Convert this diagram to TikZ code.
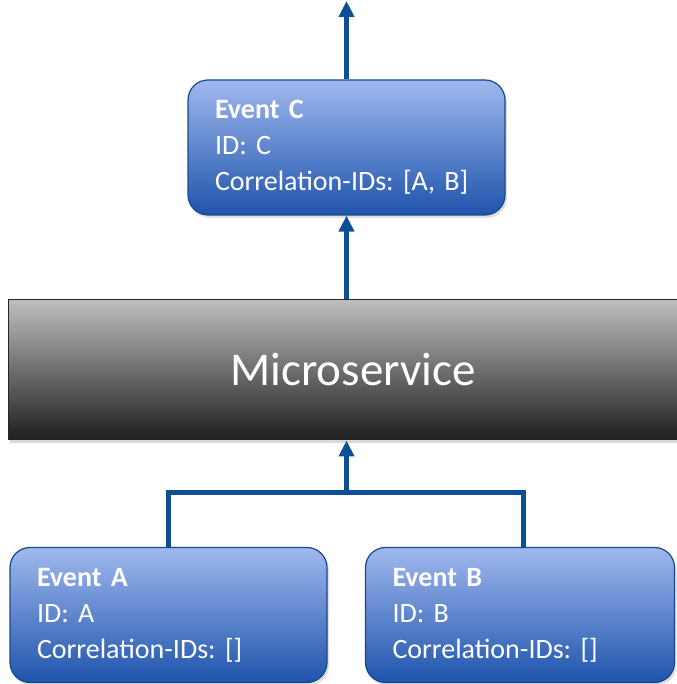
\documentclass[tikz,border=0pt]{standalone}
\usepackage{fontspec}
\setmainfont{Carlito}
\frenchspacing
\usetikzlibrary{arrows.meta,shadows}
\definecolor{evtop}{RGB}{160,184,238}
\definecolor{evbot}{RGB}{30,84,172}
\definecolor{evline}{RGB}{24,72,140}
\definecolor{flowblue}{RGB}{14,78,148}
\definecolor{mstop}{RGB}{190,190,190}
\definecolor{msbot}{RGB}{30,30,30}

\begin{document}
\begin{tikzpicture}
  [x=1pt,y=1pt,
   event/.style={draw=evline,line width=1.2pt,rounded corners=20pt,top color=evtop,bottom color=evbot,text=white,align=left,inner xsep=27pt,inner ysep=0pt,minimum height=135pt,font=\fontsize{28}{36}\selectfont,drop shadow={opacity=0.25,shadow xshift=2pt,shadow yshift=-3pt}},
   service/.style={draw=black!85,line width=1pt,top color=mstop,bottom color=msbot,text=white,minimum width=690pt,minimum height=140pt,font=\fontsize{47}{56}\selectfont,drop shadow={opacity=0.3,shadow xshift=2pt,shadow yshift=-3pt}},
   flow/.style={draw=flowblue,line width=5pt},
   arr/.style={flow,-{Triangle[width=15pt,length=16pt]}}]

  \useasboundingbox (0,0) rectangle (676,684);

  \node[event,text width=263pt] (c) at (346.5,536.5) {\textbf{Event C}\\ID: C\\Correlation-IDs: [A, B]};
  \node[service] (ms) at (353,314) {Microservice};
  \node[event,text width=263pt] (a) at (168.5,69) {\textbf{Event A}\\ID: A\\Correlation-IDs: []};
  \node[event,text width=255pt] (b) at (520,69) {\textbf{Event B}\\ID: B\\Correlation-IDs: []};

  \coordinate (j) at (346.5,191);
  \coordinate (ja) at (168.5,191);
  \coordinate (jb) at (523,191);
  \coordinate (out) at (346.5,683);

  \draw[flow] (a.north) -- (ja) -- (jb) -- (jb |- b.north);
  \draw[arr] (j) -- (ms.south -| j);
  \draw[arr] (ms.north -| c) -- (c.south);
  \draw[arr] (c.north) -- (out);

\end{tikzpicture}
\end{document}
